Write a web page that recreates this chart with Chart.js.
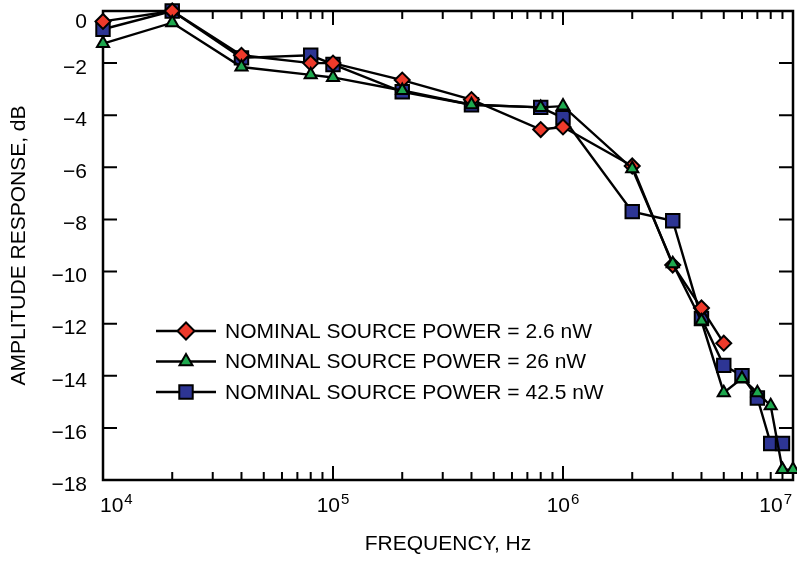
<!DOCTYPE html>
<html>
<head>
<meta charset="utf-8">
<script src="https://cdn.jsdelivr.net/npm/chart.js@4.4.1/dist/chart.umd.min.js"></script>
<style>
  html, body { margin: 0; padding: 0; background: #fff; }
  canvas { display: block; }
</style>
</head>
<body>
<canvas id="lineChart" width="797" height="561"></canvas>
<script>
// measured amplitude response (dB) against frequency (Hz)
const freq2p6nW = [1e4, 2e4, 4e4, 8e4, 1e5, 2e5, 4e5, 8e5, 1e6, 2e6, 3e6, 4e6, 5e6];
const amp2p6nW = [-0.4, 0.0, -1.7, -2.0, -2.0, -2.65, -3.4, -4.55, -4.45, -5.95, -9.75, -11.4, -12.75];

const freq26nW = [1e4, 2e4, 4e4, 8e4, 1e5, 2e5, 4e5, 8e5, 1e6, 2e6, 3e6, 4e6, 5e6, 6e6, 7e6, 8e6, 9e6, 1e7];
const amp26nW = [-1.25, -0.45, -2.15, -2.45, -2.55, -3.05, -3.6, -3.7, -3.65, -6.05, -9.7, -11.9, -14.65, -14.1, -14.65, -15.15, -17.6, -17.6];

const freq42nW = [1e4, 2e4, 4e4, 8e4, 1e5, 2e5, 4e5, 8e5, 1e6, 2e6, 3e6, 4e6, 5e6, 6e6, 7e6, 8e6, 9e6];
const amp42nW = [-0.7, 0.0, -1.8, -1.7, -2.05, -3.1, -3.6, -3.7, -4.1, -7.7, -8.05, -11.8, -13.6, -14.0, -14.85, -16.6, -16.6];

const seriesLabels = [
    'NOMINAL SOURCE POWER = 2.6 nW',
    'NOMINAL SOURCE POWER = 26 nW',
    'NOMINAL SOURCE POWER = 42.5 nW'
];

// decade exponents for the frequency axis labels
const decadeExps = [4, 5, 6, 7];
const yMin = -18, yMax = 0, yStep = 2;

const FONT = '"Liberation Sans", Arial, Helvetica, sans-serif';
const RED = '#ee3a2b';
const GREEN = '#1ea84e';
const BLUE = '#2d3594';

function toPoints(xs, ys) {
    return xs.map((x, i) => ({ x: x, y: ys[i] }));
}

// little marker shapes for the legend
function drawMarker(c, style, x, y, r, fill) {
    c.beginPath();
    if (style === 'rectRot') {
        c.moveTo(x - r, y); c.lineTo(x, y - r); c.lineTo(x + r, y); c.lineTo(x, y + r);
    } else if (style === 'triangle') {
        for (let k = 0; k < 3; k++) {
            const a = k * 2 * Math.PI / 3;
            const px = x + Math.sin(a) * r, py = y - Math.cos(a) * r;
            if (k === 0) c.moveTo(px, py); else c.lineTo(px, py);
        }
    } else {
        const s = r * Math.SQRT1_2;
        c.rect(x - s, y - s, 2 * s, 2 * s);
    }
    c.closePath();
    c.fillStyle = fill;
    c.fill();
    c.lineWidth = 2;
    c.strokeStyle = '#000';
    c.stroke();
}

// box around the plot with inward ticks on all four sides
const frameTicks = {
    id: 'frameTicks',
    beforeDatasetsDraw(chart) {
        const c = chart.ctx;
        const a = chart.chartArea;
        const xs = chart.scales.x, ys = chart.scales.y;
        c.save();
        c.strokeStyle = '#000';
        c.lineWidth = 2;
        c.beginPath();
        ys.ticks.forEach(t => {
            const py = ys.getPixelForValue(t.value);
            c.moveTo(a.left, py); c.lineTo(a.left + 14, py);
            c.moveTo(a.right, py); c.lineTo(a.right - 14, py);
        });
        for (let e = decadeExps[0]; e <= decadeExps[decadeExps.length - 1]; e++) {
            for (let m = 1; m <= 9; m++) {
                const v = m * Math.pow(10, e);
                if (v > xs.max * 1.0001) break;
                const px = xs.getPixelForValue(v);
                const len = m === 1 ? 14 : 8;
                c.moveTo(px, a.bottom); c.lineTo(px, a.bottom - len);
                c.moveTo(px, a.top); c.lineTo(px, a.top + len);
            }
        }
        c.stroke();
        c.lineWidth = 2.5;
        c.strokeRect(a.left, a.top, a.right - a.left, a.bottom - a.top);
        c.restore();
    }
};

// axis labels: 10^n under the log axis, dB values beside the y axis
const axisLabels = {
    id: 'axisLabels',
    afterDraw(chart) {
        const c = chart.ctx;
        const a = chart.chartArea;
        const xs = chart.scales.x, ys = chart.scales.y;
        c.save();
        c.fillStyle = '#000';
        c.textBaseline = 'alphabetic';
        c.textAlign = 'left';
        decadeExps.forEach(e => {
            const px = xs.getPixelForValue(Math.pow(10, e));
            c.font = '21px ' + FONT;
            const wb = c.measureText('10').width;
            c.font = '15px ' + FONT;
            const ws = c.measureText(String(e)).width;
            const w = wb + ws + 1;
            let left = px - w / 2;
            left = Math.max(left, a.left - 3);
            left = Math.min(left, a.right - 1 - w);
            c.font = '21px ' + FONT;
            c.fillText('10', left, a.bottom + 32);
            c.font = '15px ' + FONT;
            c.fillText(String(e), left + wb + 1, a.bottom + 24);
        });

        c.font = '21px ' + FONT;
        c.textAlign = 'right';
        c.textBaseline = 'middle';
        ys.ticks.forEach(t => {
            const v = t.value;
            const txt = v < 0 ? '\u2212' + Math.abs(v) : String(v);
            let py = ys.getPixelForValue(v) + 5;
            py = Math.max(py, a.top + 11);
            c.fillText(txt, a.left - 16, py);
        });
        c.restore();
    }
};

// legend drawn inside the plot area
const insideLegend = {
    id: 'insideLegend',
    afterDraw(chart) {
        const c = chart.ctx;
        const a = chart.chartArea;
        const x0 = a.left + 53;
        const y0 = a.top + 320;
        c.save();
        seriesLabels.forEach((label, i) => {
            const ds = chart.data.datasets[i];
            const y = y0 + i * 30.5;
            c.strokeStyle = '#000';
            c.lineWidth = 2.4;
            c.beginPath();
            c.moveTo(x0, y); c.lineTo(x0 + 60, y);
            c.stroke();
            const r = ds.pointStyle === 'rectRot' ? 8.5 : (ds.pointStyle === 'triangle' ? 7.5 : 9.5);
            drawMarker(c, ds.pointStyle, x0 + 30, y, r, ds.pointBackgroundColor);
            c.fillStyle = '#000';
            c.font = '21px ' + FONT;
            c.textBaseline = 'middle';
            c.textAlign = 'left';
            c.fillText(label, x0 + 69, y + 1);
        });
        c.restore();
    }
};

function lineSet(label, pts, style, radius, color, order) {
    return {
        label: label,
        data: pts,
        borderColor: '#000',
        borderWidth: 2.4,
        pointStyle: style,
        pointRadius: radius,
        pointHoverRadius: radius,
        pointBackgroundColor: color,
        pointBorderColor: '#000',
        pointBorderWidth: 2,
        tension: 0,
        fill: false,
        clip: false,
        order: order
    };
}

const lineChart = document.getElementById('lineChart').getContext('2d');

new Chart(lineChart, {
    type: 'line',
    data: {
        datasets: [
            lineSet(seriesLabels[0], toPoints(freq2p6nW, amp2p6nW), 'rectRot', 7.5, RED, 2),
            lineSet(seriesLabels[1], toPoints(freq26nW, amp26nW), 'triangle', 7, GREEN, 1),
            lineSet(seriesLabels[2], toPoints(freq42nW, amp42nW), 'rect', 9.5, BLUE, 3)
        ]
    },
    options: {
        responsive: false,
        animation: false,
        layout: {
            autoPadding: false,
            padding: { top: 11, right: 4, left: 0, bottom: 0 }
        },
        plugins: {
            legend: { display: false },
            tooltip: { enabled: false }
        },
        scales: {
            x: {
                type: 'logarithmic',
                min: 1e4,
                max: 1e7,
                grid: { display: false },
                border: { display: false },
                ticks: { display: false },
                title: {
                    display: true,
                    text: 'FREQUENCY, Hz',
                    color: '#000',
                    font: { family: FONT, size: 21 },
                    padding: { top: 0, bottom: 4 }
                },
                afterFit(scale) { scale.height = 81; }
            },
            y: {
                min: yMin,
                max: yMax,
                grid: { display: false, drawTicks: false },
                border: { display: false },
                ticks: { stepSize: yStep, display: false },
                title: {
                    display: true,
                    text: 'AMPLITUDE RESPONSE, dB',
                    color: '#000',
                    font: { family: FONT, size: 21 },
                    padding: { top: 7, bottom: 0 }
                },
                afterFit(scale) { scale.width = 103; }
            }
        }
    },
    plugins: [frameTicks, axisLabels, insideLegend]
});
</script>
</body>
</html>
